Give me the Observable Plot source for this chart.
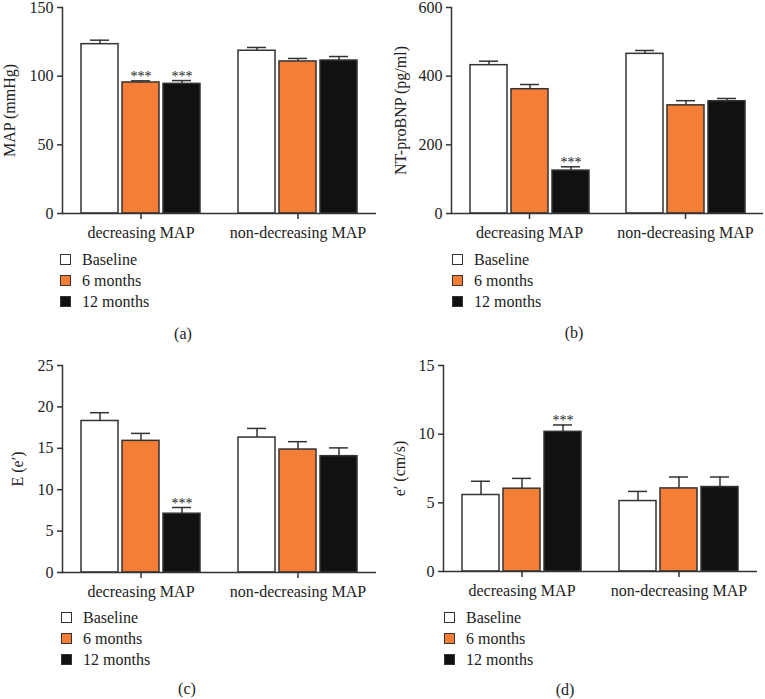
<!DOCTYPE html>
<html>
<head>
<meta charset="utf-8">
<script src="https://cdn.jsdelivr.net/npm/d3@7"></script>
<script src="https://cdn.jsdelivr.net/npm/@observablehq/plot@0.6"></script>
<style>
  html, body { margin: 0; padding: 0; background: #fff; }
  #root { position: relative; width: 765px; height: 699px; font-family: "Liberation Serif", "DejaVu Serif", serif; color: #222; overflow: hidden; }
  .panel { position: absolute; }
  .legend { position: absolute; font-size: 16px; line-height: 21px; }
  .legend .row { display: flex; align-items: center; height: 21px; }
  .legend .sw { width: 9px; height: 9px; border: 1.5px solid #333; box-sizing: content-box; margin-right: 11px; }
  .caption { position: absolute; font-size: 16px; line-height: 16px; transform: translate(-50%, -50%); }
</style>
</head>
<body>
<div id="root"></div>
<script>
const groups = ["decreasing MAP", "non-decreasing MAP"];
const series = ["Baseline", "6 months", "12 months"];
const seriesColors = ["#ffffff", "#f47e35", "#111111"];

// values ordered: decreasing (Baseline, 6m, 12m), non-decreasing (Baseline, 6m, 12m)
const mapMean = [123.3, 95.4, 94.4, 118.5, 110.7, 111.4];
const mapSem  = [2.9, 1.2, 2.4, 2.4, 2.2, 2.9];
const mapSig  = ["", "***", "***", "", "", ""];

const bnpMean = [432, 362, 125, 465, 315, 327];
const bnpSem  = [11.6, 13.7, 11, 9.8, 13.6, 8];
const bnpSig  = ["", "", "***", "", "", ""];

const eeMean = [18.3, 15.9, 7.1, 16.3, 14.85, 14.05];
const eeSem  = [1.0, 0.9, 0.75, 1.1, 0.95, 1.0];
const eeSig  = ["", "", "***", "", "", ""];

const epMean = [5.57, 6.03, 10.17, 5.13, 6.05, 6.15];
const epSem  = [1.0, 0.75, 0.5, 0.7, 0.83, 0.73];
const epSig  = ["", "", "***", "", "", ""];

const mapTicks = [0, 50, 100, 150];
const bnpTicks = [0, 200, 400, 600];
const eeTicks = [0, 5, 10, 15, 20, 25];
const epTicks = [0, 5, 10, 15];

const root = document.getElementById("root");

function panel(cfg) {
  const data = groups.flatMap((g, gi) => series.map((s, si) => {
    const i = gi * 3 + si;
    return {group: g, series: s, mean: cfg.mean[i], upper: cfg.mean[i] + cfg.sem[i], sig: cfg.sig[i]};
  }));
  const chart = Plot.plot({
    width: cfg.width,
    height: cfg.height,
    marginTop: 7,
    marginBottom: 32,
    marginLeft: cfg.marginLeft,
    marginRight: cfg.marginRight,
    style: {fontFamily: "Liberation Serif, DejaVu Serif, serif", fontSize: "16px", color: "#222", background: "transparent", overflow: "visible"},
    fx: {domain: groups, paddingInner: 0, paddingOuter: 0, label: null},
    x: {domain: series, axis: null, paddingInner: 0.1, paddingOuter: 0.43},
    y: {domain: cfg.domain, label: cfg.label},
    color: {domain: series, range: seriesColors},
    marks: [
      Plot.axisY({ticks: cfg.ticks, tickSize: 5, tickPadding: 4, stroke: "#333", strokeWidth: 1.5, label: cfg.label, labelAnchor: "center", labelArrow: "none", labelOffset: cfg.labelOffset, fontSize: 16}),
      Plot.axisFx({anchor: "bottom", tickSize: 6, tickPadding: 7, stroke: "#333", strokeWidth: 1.5, label: null, fontSize: 16}),
      Plot.frame({anchor: "left", facetAnchor: "left", stroke: "#333", strokeWidth: 1.5}),
      Plot.barY(data, {fx: "group", x: "series", y: "mean", fill: "series", stroke: "#333", strokeWidth: 1.5}),
      Plot.ruleX(data, {fx: "group", x: "series", y1: "mean", y2: "upper", stroke: "#333", strokeWidth: 1.5}),
      Plot.tickY(data, {fx: "group", x: "series", y: "upper", insetLeft: 9, insetRight: 9, stroke: "#333", strokeWidth: 1.5}),
      Plot.text(data, {fx: "group", x: "series", y: "upper", text: "sig", dy: -4, fontSize: 14, fill: "#222"}),
      Plot.ruleY([0], {stroke: "#333", strokeWidth: 1.5})
    ]
  });
  const div = document.createElement("div");
  div.className = "panel";
  div.style.left = cfg.left + "px";
  div.style.top = cfg.top + "px";
  div.appendChild(chart);
  root.appendChild(div);

  const leg = document.createElement("div");
  leg.className = "legend";
  leg.style.left = cfg.legendLeft + "px";
  leg.style.top = cfg.legendTop + "px";
  series.forEach((s, i) => {
    const row = document.createElement("div");
    row.className = "row";
    const sw = document.createElement("div");
    sw.className = "sw";
    sw.style.background = seriesColors[i];
    const t = document.createElement("span");
    t.textContent = s;
    row.appendChild(sw);
    row.appendChild(t);
    leg.appendChild(row);
  });
  root.appendChild(leg);

  const cap = document.createElement("div");
  cap.className = "caption";
  cap.style.left = cfg.capX + "px";
  cap.style.top = cfg.capY + "px";
  cap.textContent = cfg.caption;
  root.appendChild(cap);
}

panel({left: 0, top: 0, width: 380, height: 245, marginLeft: 61, marginRight: 4,
  mean: mapMean, sem: mapSem, sig: mapSig, domain: [0, 150], ticks: mapTicks, label: "MAP (mmHg)", labelOffset: 59,
  legendLeft: 60, legendTop: 249, capX: 183, capY: 334, caption: "(a)"});
panel({left: 380, top: 0, width: 385, height: 245, marginLeft: 70, marginRight: 2,
  mean: bnpMean, sem: bnpSem, sig: bnpSig, domain: [0, 600], ticks: bnpTicks, label: "NT-proBNP (pg/ml)", labelOffset: 57,
  legendLeft: 452, legendTop: 249, capX: 574, capY: 333, caption: "(b)"});
panel({left: 0, top: 358, width: 380, height: 246, marginLeft: 61, marginRight: 4,
  mean: eeMean, sem: eeSem, sig: eeSig, domain: [0, 25], ticks: eeTicks, label: "E (e′)", labelOffset: 51,
  legendLeft: 61, legendTop: 607, capX: 187, capY: 689, caption: "(c)"});
panel({left: 380, top: 358, width: 385, height: 245, marginLeft: 63, marginRight: 8,
  mean: epMean, sem: epSem, sig: epSig, domain: [0, 15], ticks: epTicks, label: "e′ (cm/s)", labelOffset: 50,
  legendLeft: 444, legendTop: 607, capX: 565, capY: 690, caption: "(d)"});
</script>
</body>
</html>
